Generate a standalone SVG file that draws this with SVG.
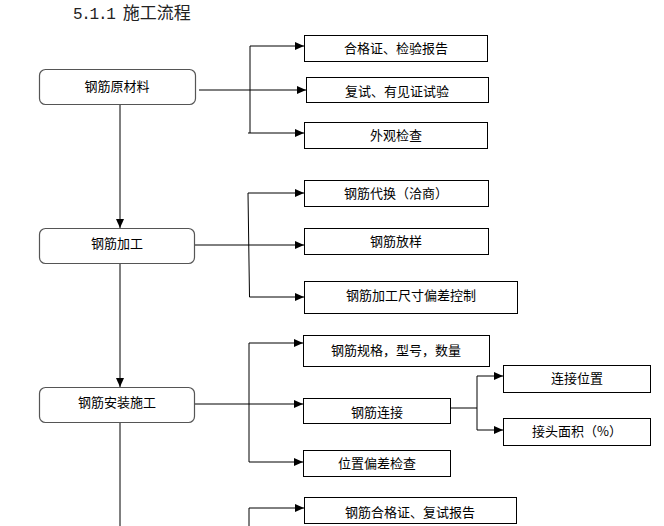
<svg xmlns="http://www.w3.org/2000/svg" width="664" height="526" viewBox="0 0 664 526">
<defs>
<marker id="ah" markerWidth="9" markerHeight="8" refX="9" refY="4" orient="auto" markerUnits="userSpaceOnUse"><path d="M0,0 L9,4 L0,8 z" fill="#000"/></marker>
<style>
.main{fill:#fff;stroke:#555;stroke-width:1.2}
.box{fill:#fff;stroke:#000;stroke-width:1}
.t{font-family:"Noto Sans CJK SC","Noto Sans CJK TC",sans-serif;font-size:13px;fill:#000;text-anchor:middle}
.c{fill:none;stroke:#000;stroke-width:1}
.a{fill:none;stroke:#000;stroke-width:1;marker-end:url(#ah)}
</style>
</defs>
<rect width="664" height="526" fill="#fff"/>
<text x="73" y="19" style="font-family:'Noto Sans CJK SC',sans-serif;font-size:17px;fill:#222"><tspan style="font-family:'Liberation Mono',monospace;font-size:16px;letter-spacing:-1.3px">5.1.1 </tspan>施工流程</text>

<g id="connectors">
<path class="a" d="M120,105 V228"/>
<path class="a" d="M120,263 V387"/>
<path class="c" d="M120,422 V526"/>
<path class="a" d="M199,90 H306"/>
<path class="c" d="M250,46 V133"/>
<path class="a" d="M250,46 H304"/>
<path class="a" d="M248,133 H304"/>
<path class="a" d="M194,245 H304"/>
<path class="c" d="M248,193 L249.5,297"/>
<path class="a" d="M248,193 H304"/>
<path class="a" d="M249.5,297 H304"/>
<path class="a" d="M194,404 H303"/>
<path class="c" d="M249,343 V462"/>
<path class="a" d="M249,343 H303"/>
<path class="a" d="M249,462 H303"/>
<path class="c" d="M450,408 H477 M477,376 V430"/>
<path class="a" d="M477,376 H503"/>
<path class="a" d="M477,430 H503"/>
<path class="c" d="M249,508 V526"/>
<path class="a" d="M249,508 H304"/>
</g>

<g id="n1"><rect class="main" x="39.5" y="69.5" width="156" height="35" rx="6"/><text class="t" x="117" y="91">钢筋原材料</text></g>
<g id="n2"><rect class="main" x="39.5" y="228.5" width="155" height="35" rx="6"/><text class="t" x="117" y="248">钢筋加工</text></g>
<g id="n3"><rect class="main" x="39.5" y="387.5" width="155" height="35" rx="6"/><text class="t" x="117" y="407">钢筋安装施工</text></g>

<g id="r1"><rect class="box" x="304.5" y="35.5" width="183" height="26"/><text class="t" x="396" y="52.5">合格证、检验报告</text></g>
<g id="r2"><rect class="box" x="306.5" y="77.5" width="182" height="25"/><text class="t" x="397" y="96">复试、有见证试验</text></g>
<g id="r3"><rect class="box" x="304.5" y="122.5" width="183" height="26"/><text class="t" x="396" y="140">外观检查</text></g>

<g id="r4"><rect class="box" x="304.5" y="180.5" width="184" height="26"/><text class="t" x="396" y="198">钢筋代换（洽商）</text></g>
<g id="r5"><rect class="box" x="304.5" y="228.5" width="184" height="26"/><text class="t" x="396" y="246">钢筋放样</text></g>
<g id="r6"><rect class="box" x="304.5" y="281.5" width="213" height="32"/><text class="t" x="411" y="300">钢筋加工尺寸偏差控制</text></g>

<g id="r7"><rect class="box" x="303.5" y="335.5" width="186" height="31"/><text class="t" x="396" y="355">钢筋规格，型号，数量</text></g>
<g id="r8"><rect class="box" x="303.5" y="398.5" width="147" height="25"/><text class="t" x="377" y="416.5">钢筋连接</text></g>
<g id="r9"><rect class="box" x="303.5" y="450.5" width="147" height="26"/><text class="t" x="377" y="468">位置偏差检查</text></g>
<g id="r10"><rect class="box" x="503.5" y="365.5" width="147" height="27"/><text class="t" x="577" y="383">连接位置</text></g>
<g id="r11"><rect class="box" x="503.5" y="418.5" width="147" height="27"/><text class="t" x="577" y="436">接头面积（%）</text></g>

<g id="r12"><rect class="box" x="304.5" y="497.5" width="212" height="26"/><text class="t" x="410" y="516.5">钢筋合格证、复试报告</text></g>
</svg>
